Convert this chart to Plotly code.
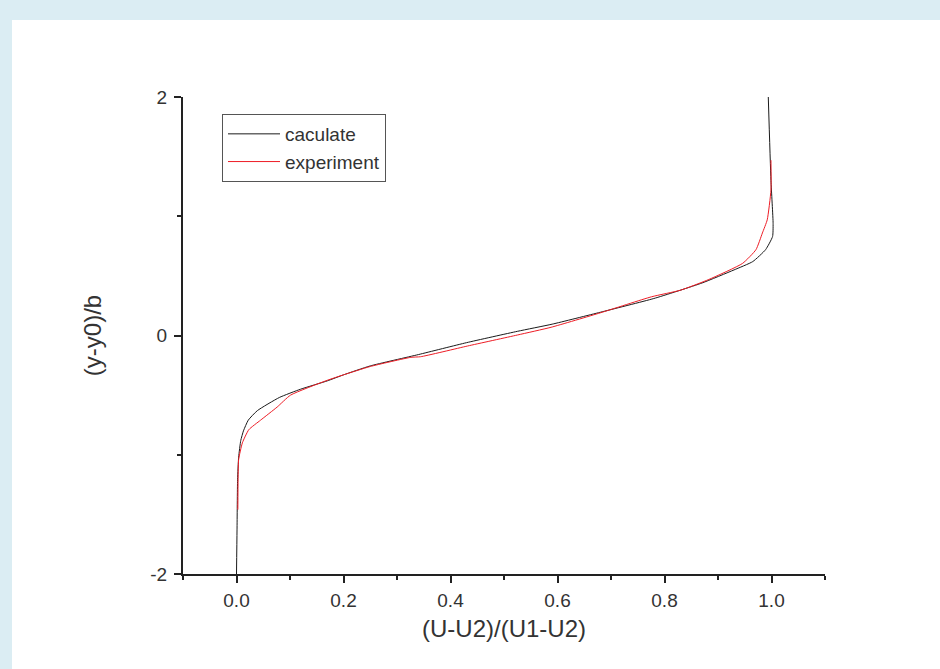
import plotly.graph_objects as go

# calculated profile
calc_x = [0.0, 0.001, 0.002, 0.004, 0.008, 0.013, 0.022, 0.039, 0.08, 0.12, 0.17, 0.2, 0.25,
          0.34, 0.43, 0.525, 0.59, 0.68, 0.78, 0.87, 0.93, 0.965, 0.989, 1.002, 1.003,
          0.999, 0.994]
calc_y = [-2.0, -1.63, -1.21, -1.02, -0.88, -0.8, -0.71, -0.63, -0.52, -0.45, -0.38, -0.33, -0.255,
          -0.16, -0.06, 0.035, 0.095, 0.195, 0.31, 0.44, 0.55, 0.62, 0.72, 0.83, 0.94,
          1.3, 2.0]

# experimental profile
exp_x = [0.0025, 0.003, 0.004, 0.011, 0.023, 0.045, 0.076, 0.101, 0.17, 0.2, 0.25, 0.326,
         0.344, 0.432, 0.525, 0.588, 0.68, 0.776, 0.83, 0.883, 0.946, 0.971, 0.983, 0.992,
         0.999, 0.999]
exp_y = [-1.46, -1.2, -1.04, -0.90, -0.79, -0.71, -0.6, -0.5, -0.375, -0.33, -0.26, -0.183,
         -0.178, -0.088, 0.004, 0.069, 0.19, 0.325, 0.38, 0.47, 0.605, 0.72, 0.86, 0.97,
         1.22, 1.47]

FONT = "Liberation Sans, Arial"

fig = go.Figure()
fig.add_trace(go.Scatter(x=calc_x, y=calc_y, mode="lines", name="caculate",
                         line=dict(color="#1a1a1a", width=1, shape="spline", smoothing=0.5)))
fig.add_trace(go.Scatter(x=exp_x, y=exp_y, mode="lines", name="experiment",
                         line=dict(color="#ee1c25", width=1, shape="spline", smoothing=0.5)))

L, R, T, B = 183, 115, 97, 95
W, H = 940, 669
pw, ph = W - L - R, H - T - B

def px2paper_x(px):
    return (px - L) / pw

def py2paper_y(py):
    return (H - B - py) / ph

fig.add_shape(type="rect", xref="paper", yref="paper", layer="below",
              x0=px2paper_x(12), x1=px2paper_x(945),
              y0=py2paper_y(675), y1=py2paper_y(20),
              fillcolor="white", line=dict(width=0))

axis_common = dict(showline=True, linecolor="#222", linewidth=2, ticks="outside",
                   tickcolor="#222", tickwidth=1.5, ticklen=7, showgrid=False,
                   zeroline=False, mirror=False,
                   tickfont=dict(family=FONT, size=19, color="#333"))

fig.update_layout(
    width=W, height=H,
    margin=dict(l=L, r=R, t=T, b=B),
    paper_bgcolor="#dbedf3",
    plot_bgcolor="white",
    showlegend=True,
    legend=dict(x=px2paper_x(222), y=py2paper_y(114), xanchor="left", yanchor="top",
                bgcolor="white", bordercolor="#555", borderwidth=1,
                font=dict(family=FONT, size=19, color="#333"),
                tracegroupgap=0, itemwidth=52),
    xaxis=dict(range=[-0.1, 1.1], tickmode="array",
               tickvals=[0, 0.2, 0.4, 0.6, 0.8, 1.0],
               ticktext=["0.0", "0.2", "0.4", "0.6", "0.8", "1.0"],
               minor=dict(ticks="outside", ticklen=4, tickcolor="#222", tickwidth=1.5,
                          tickvals=[-0.1, 0.1, 0.3, 0.5, 0.7, 0.9, 1.1]),
               title=dict(text="(U-U2)/(U1-U2)", standoff=10,
                          font=dict(family=FONT, size=24, color="#333")),
               ticklabelstandoff=1,
               **axis_common),
    yaxis=dict(range=[-2, 2], tickmode="array", tickvals=[-2, 0, 2],
               ticktext=["-2", "0", "2"],
               minor=dict(ticks="outside", ticklen=4, tickcolor="#222", tickwidth=1.5,
                          tickvals=[-1, 1]),
               title=dict(text="(y-y0)/b", standoff=42,
                          font=dict(family=FONT, size=24, color="#333")),
               ticklabelstandoff=3,
               **axis_common),
)

fig.write_html("out.html")
